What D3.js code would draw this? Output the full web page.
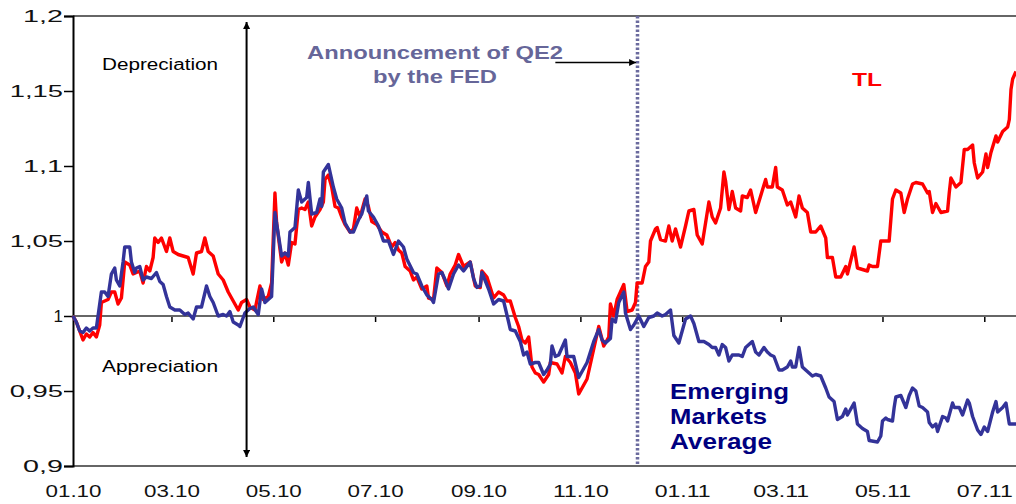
<!doctype html>
<html>
<head>
<meta charset="utf-8">
<title>TL vs Emerging Markets Average</title>
<script src="https://d3js.org/d3.v7.min.js"></script>
<style>
  body { margin: 0; background: #fff; }
  svg { display: block; font-family: "Liberation Sans", Arial, sans-serif; }
</style>
</head>
<body>
<svg class="chart"></svg>
<script>
// Turkish lira index (red) and emerging markets average (blue), 01.01.2010 = 1
var tlPoints = [
  ["2010-01-01",1.000],["2010-01-03",0.996],["2010-01-05",0.990],["2010-01-07",0.984],["2010-01-09",0.988],["2010-01-11",0.986],["2010-01-13",0.989],["2010-01-15",0.986],["2010-01-17",0.994],["2010-01-18",1.009],["2010-01-20",1.010],["2010-01-22",1.011],["2010-01-24",1.016],["2010-01-26",1.016],["2010-01-28",1.008],["2010-01-30",1.012],
  ["2010-02-01",1.036],["2010-02-04",1.034],["2010-02-06",1.028],["2010-02-08",1.029],["2010-02-10",1.030],["2010-02-12",1.022],["2010-02-14",1.033],["2010-02-16",1.030],["2010-02-18",1.039],["2010-02-19",1.052],["2010-02-21",1.049],["2010-02-23",1.052],["2010-02-26",1.043],["2010-02-28",1.052],
  ["2010-03-02",1.043],["2010-03-05",1.041],["2010-03-08",1.040],["2010-03-11",1.039],["2010-03-14",1.028],["2010-03-16",1.042],["2010-03-19",1.043],["2010-03-21",1.052],["2010-03-23",1.043],["2010-03-26",1.040],["2010-03-29",1.028],
  ["2010-04-01",1.024],["2010-04-04",1.016],["2010-04-07",1.010],["2010-04-10",1.004],["2010-04-12",1.009],["2010-04-15",1.011],["2010-04-17",1.006],["2010-04-20",1.004],["2010-04-23",1.020],["2010-04-25",1.011],["2010-04-28",1.013],["2010-04-30",1.022],
  ["2010-05-02",1.082],["2010-05-03",1.062],["2010-05-06",1.036],["2010-05-08",1.042],["2010-05-10",1.034],["2010-05-12",1.049],["2010-05-14",1.048],["2010-05-16",1.071],["2010-05-18",1.072],["2010-05-20",1.071],["2010-05-22",1.076],["2010-05-24",1.060],["2010-05-26",1.066],["2010-05-29",1.071],["2010-05-31",1.076],
  ["2010-06-01",1.091],["2010-06-03",1.094],["2010-06-05",1.086],["2010-06-07",1.073],["2010-06-09",1.072],["2010-06-11",1.066],["2010-06-13",1.061],["2010-06-16",1.056],["2010-06-18",1.058],["2010-06-20",1.072],["2010-06-22",1.066],["2010-06-25",1.078],["2010-06-27",1.073],["2010-06-29",1.063],
  ["2010-07-02",1.061],["2010-07-05",1.056],["2010-07-08",1.054],["2010-07-11",1.046],["2010-07-13",1.049],["2010-07-15",1.044],["2010-07-17",1.042],["2010-07-19",1.033],["2010-07-22",1.030],["2010-07-24",1.024],["2010-07-26",1.026],["2010-07-29",1.018],
  ["2010-08-01",1.020],["2010-08-02",1.012],["2010-08-05",1.011],["2010-08-07",1.032],["2010-08-10",1.029],["2010-08-13",1.020],["2010-08-15",1.028],["2010-08-18",1.034],["2010-08-20",1.041],["2010-08-23",1.033],["2010-08-27",1.036],["2010-08-30",1.020],
  ["2010-09-02",1.019],["2010-09-03",1.030],["2010-09-06",1.026],["2010-09-10",1.012],["2010-09-13",1.016],["2010-09-16",1.014],["2010-09-18",1.010],["2010-09-20",1.010],["2010-09-23",0.999],["2010-09-25",0.993],["2010-09-27",0.984],["2010-09-29",0.982],
  ["2010-10-01",0.986],["2010-10-03",0.966],["2010-10-05",0.962],["2010-10-07",0.961],["2010-10-10",0.956],["2010-10-13",0.961],["2010-10-14",0.969],["2010-10-18",0.968],["2010-10-21",0.962],["2010-10-23",0.973],["2010-10-26",0.969],["2010-10-29",0.962],["2010-10-31",0.948],
  ["2010-11-05",0.958],["2010-11-09",0.978],["2010-11-12",0.993],["2010-11-15",0.980],["2010-11-18",0.986],["2010-11-19",1.008],["2010-11-21",1.000],["2010-11-23",1.011],["2010-11-27",1.021],["2010-11-29",1.003],
  ["2010-12-02",1.004],["2010-12-04",1.009],["2010-12-05",1.022],["2010-12-08",1.022],["2010-12-10",1.033],["2010-12-12",1.036],["2010-12-13",1.050],["2010-12-16",1.058],["2010-12-17",1.059],["2010-12-19",1.051],["2010-12-22",1.050],["2010-12-24",1.060],["2010-12-26",1.050],["2010-12-28",1.058],["2010-12-31",1.046],
  ["2011-01-03",1.060],["2011-01-05",1.070],["2011-01-08",1.071],["2011-01-10",1.054],["2011-01-13",1.048],["2011-01-17",1.076],["2011-01-19",1.066],["2011-01-21",1.062],["2011-01-24",1.072],["2011-01-26",1.096],["2011-01-27",1.090],["2011-01-29",1.071],["2011-01-31",1.083],
  ["2011-02-02",1.072],["2011-02-05",1.070],["2011-02-06",1.080],["2011-02-09",1.079],["2011-02-11",1.084],["2011-02-14",1.069],["2011-02-17",1.080],["2011-02-20",1.091],["2011-02-21",1.086],["2011-02-24",1.086],["2011-02-26",1.099],["2011-02-27",1.086],
  ["2011-03-02",1.084],["2011-03-05",1.074],["2011-03-07",1.076],["2011-03-10",1.066],["2011-03-12",1.080],["2011-03-14",1.072],["2011-03-17",1.069],["2011-03-19",1.056],["2011-03-22",1.056],["2011-03-25",1.060],["2011-03-28",1.052],["2011-03-29",1.039],
  ["2011-04-01",1.039],["2011-04-03",1.026],["2011-04-06",1.026],["2011-04-09",1.033],["2011-04-10",1.028],["2011-04-14",1.046],["2011-04-16",1.032],["2011-04-19",1.031],["2011-04-22",1.030],["2011-04-23",1.034],["2011-04-25",1.033],["2011-04-28",1.033],["2011-04-30",1.050],
  ["2011-05-02",1.050],["2011-05-05",1.050],["2011-05-07",1.078],["2011-05-09",1.084],["2011-05-12",1.082],["2011-05-14",1.069],["2011-05-16",1.078],["2011-05-19",1.088],["2011-05-21",1.089],["2011-05-25",1.088],["2011-05-28",1.082],["2011-05-29",1.083],["2011-05-31",1.069],
  ["2011-06-02",1.075],["2011-06-05",1.069],["2011-06-09",1.070],["2011-06-10",1.082],["2011-06-11",1.092],["2011-06-14",1.086],["2011-06-17",1.089],["2011-06-19",1.111],["2011-06-21",1.111],["2011-06-24",1.114],["2011-06-25",1.102],["2011-06-27",1.092],["2011-06-30",1.096],
  ["2011-07-02",1.108],["2011-07-03",1.099],["2011-07-05",1.109],["2011-07-08",1.120],["2011-07-09",1.116],["2011-07-12",1.123],["2011-07-15",1.126],["2011-07-16",1.131],["2011-07-17",1.151],["2011-07-18",1.158],["2011-07-20",1.163]
];

var emPoints = [
  ["2010-01-01",1.000],["2010-01-03",0.996],["2010-01-05",0.990],["2010-01-07",0.989],["2010-01-09",0.992],["2010-01-11",0.990],["2010-01-13",0.992],["2010-01-15",0.992],["2010-01-17",1.008],["2010-01-18",1.016],["2010-01-20",1.016],["2010-01-22",1.013],["2010-01-24",1.028],["2010-01-26",1.032],["2010-01-27",1.024],["2010-01-29",1.020],["2010-01-31",1.036],
  ["2010-02-01",1.046],["2010-02-04",1.046],["2010-02-05",1.036],["2010-02-07",1.029],["2010-02-08",1.032],["2010-02-10",1.033],["2010-02-12",1.024],["2010-02-14",1.026],["2010-02-17",1.025],["2010-02-20",1.029],["2010-02-22",1.023],["2010-02-24",1.021],["2010-02-26",1.013],["2010-02-28",1.006],
  ["2010-03-03",1.004],["2010-03-06",1.004],["2010-03-09",1.001],["2010-03-11",1.002],["2010-03-14",0.998],["2010-03-16",1.006],["2010-03-19",1.006],["2010-03-22",1.020],["2010-03-24",1.013],["2010-03-26",1.009],["2010-03-29",1.000],
  ["2010-04-01",1.001],["2010-04-03",1.000],["2010-04-05",1.003],["2010-04-07",0.996],["2010-04-10",0.994],["2010-04-11",0.993],["2010-04-14",1.002],["2010-04-17",1.005],["2010-04-19",1.006],["2010-04-22",1.001],["2010-04-24",1.018],["2010-04-26",1.009],["2010-04-30",1.013],
  ["2010-05-02",1.069],["2010-05-06",1.040],["2010-05-08",1.042],["2010-05-10",1.040],["2010-05-11",1.056],["2010-05-14",1.059],["2010-05-16",1.084],["2010-05-18",1.076],["2010-05-21",1.079],["2010-05-22",1.089],["2010-05-24",1.068],["2010-05-27",1.069],["2010-05-29",1.078],["2010-05-30",1.073],["2010-05-31",1.096],
  ["2010-06-03",1.101],["2010-06-06",1.086],["2010-06-08",1.078],["2010-06-11",1.072],["2010-06-13",1.062],["2010-06-16",1.056],["2010-06-18",1.056],["2010-06-21",1.064],["2010-06-23",1.068],["2010-06-26",1.080],["2010-06-27",1.070],["2010-06-30",1.066],
  ["2010-07-03",1.060],["2010-07-06",1.050],["2010-07-09",1.050],["2010-07-12",1.041],["2010-07-15",1.050],["2010-07-18",1.046],["2010-07-20",1.038],["2010-07-24",1.029],["2010-07-26",1.028],["2010-07-29",1.020],
  ["2010-08-01",1.014],["2010-08-04",1.011],["2010-08-05",1.009],["2010-08-08",1.028],["2010-08-10",1.029],["2010-08-12",1.024],["2010-08-14",1.018],["2010-08-17",1.028],["2010-08-20",1.034],["2010-08-23",1.030],["2010-08-27",1.036],["2010-08-29",1.025],["2010-08-31",1.019],
  ["2010-09-02",1.020],["2010-09-03",1.029],["2010-09-07",1.018],["2010-09-10",1.008],["2010-09-13",1.011],["2010-09-16",1.010],["2010-09-19",0.996],["2010-09-20",0.991],["2010-09-23",0.990],["2010-09-26",0.983],["2010-09-28",0.974],["2010-09-30",0.976],
  ["2010-10-02",0.968],["2010-10-05",0.969],["2010-10-07",0.969],["2010-10-10",0.961],["2010-10-12",0.964],["2010-10-14",0.968],["2010-10-15",0.980],["2010-10-17",0.973],["2010-10-19",0.974],["2010-10-23",0.984],["2010-10-24",0.973],["2010-10-28",0.973],["2010-10-31",0.959],
  ["2010-11-05",0.969],["2010-11-09",0.983],["2010-11-12",0.991],["2010-11-14",0.984],["2010-11-16",0.982],["2010-11-19",0.985],["2010-11-20",0.998],["2010-11-22",0.996],["2010-11-24",1.009],["2010-11-27",1.016],["2010-11-28",1.002],
  ["2010-12-01",0.991],["2010-12-03",0.994],["2010-12-06",1.000],["2010-12-09",0.993],["2010-12-12",0.999],["2010-12-15",1.000],["2010-12-17",1.002],["2010-12-20",1.000],["2010-12-22",1.001],["2010-12-25",1.004],["2010-12-27",0.987],["2010-12-30",0.982],
  ["2011-01-03",0.998],["2011-01-06",1.000],["2011-01-08",0.995],["2011-01-11",0.983],["2011-01-14",0.983],["2011-01-17",0.981],["2011-01-19",0.979],["2011-01-21",0.979],["2011-01-23",0.974],["2011-01-25",0.981],["2011-01-27",0.979],["2011-01-29",0.970],["2011-01-31",0.974],
  ["2011-02-04",0.974],["2011-02-06",0.973],["2011-02-08",0.979],["2011-02-09",0.980],["2011-02-12",0.983],["2011-02-14",0.976],["2011-02-16",0.974],["2011-02-19",0.979],["2011-02-21",0.976],["2011-02-23",0.974],["2011-02-25",0.973],["2011-02-28",0.964],
  ["2011-03-02",0.964],["2011-03-05",0.966],["2011-03-07",0.970],["2011-03-08",0.966],["2011-03-10",0.966],["2011-03-12",0.979],["2011-03-14",0.966],["2011-03-17",0.963],["2011-03-20",0.960],["2011-03-22",0.961],["2011-03-25",0.960],["2011-03-28",0.952],["2011-03-30",0.946],
  ["2011-04-02",0.943],["2011-04-04",0.931],["2011-04-07",0.933],["2011-04-09",0.938],["2011-04-10",0.934],["2011-04-14",0.942],["2011-04-16",0.928],["2011-04-19",0.925],["2011-04-22",0.923],["2011-04-23",0.917],["2011-04-28",0.916],["2011-04-30",0.920],
  ["2011-05-01",0.930],["2011-05-03",0.932],["2011-05-04",0.931],["2011-05-07",0.930],["2011-05-08",0.939],["2011-05-09",0.946],["2011-05-12",0.947],["2011-05-15",0.939],["2011-05-17",0.947],["2011-05-19",0.952],["2011-05-21",0.950],["2011-05-23",0.940],["2011-05-25",0.939],["2011-05-28",0.936],["2011-05-29",0.929],["2011-05-31",0.926],
  ["2011-06-02",0.928],["2011-06-03",0.923],["2011-06-06",0.933],["2011-06-08",0.932],["2011-06-09",0.930],["2011-06-12",0.942],["2011-06-13",0.939],["2011-06-16",0.939],["2011-06-18",0.934],["2011-06-21",0.944],["2011-06-22",0.942],["2011-06-24",0.933],["2011-06-27",0.924],["2011-06-29",0.921],
  ["2011-07-01",0.926],["2011-07-03",0.923],["2011-07-06",0.936],["2011-07-08",0.943],["2011-07-09",0.936],["2011-07-12",0.939],["2011-07-14",0.942],["2011-07-16",0.928],["2011-07-20",0.928]
];

var yTicks = [0.9, 0.95, 1, 1.05, 1.1, 1.15, 1.2];
var yTickLabels = ["0,9", "0,95", "1", "1,05", "1,1", "1,15", "1,2"];
var xTickDates = ["2010-01-01", "2010-03-01", "2010-05-01", "2010-07-01", "2010-09-01", "2010-11-01",
                  "2011-01-01", "2011-03-01", "2011-05-01", "2011-07-01"];
var xTickLabels = ["01.10", "03.10", "05.10", "07.10", "09.10", "11.10", "01.11", "03.11", "05.11", "07.11"];

// annotation anchors
var qeDate = "2010-12-05";       // dotted marker line
var splitDate = "2010-04-15";    // depreciation / appreciation arrow
var qeArrowFrom = "2010-10-17";

var width = 1016, height = 504;
var plotLeft = 73, plotRight = 1016, plotTop = 16, plotBottom = 466;
var parse = d3.timeParse("%Y-%m-%d");

var x = d3.scaleTime().domain([parse("2010-01-01"), parse("2011-07-20")]).range([plotLeft, plotRight]);
var y = d3.scaleLinear().domain([0.9, 1.2]).range([plotBottom, plotTop]);

var svg = d3.select(".chart").attr("width", width).attr("height", height);

var defs = svg.append("defs");
defs.append("marker")
    .attr("id", "head")
    .attr("viewBox", "0 0 10 10")
    .attr("refX", 10).attr("refY", 5)
    .attr("markerWidth", 9).attr("markerHeight", 7)
    .attr("markerUnits", "userSpaceOnUse")
    .attr("orient", "auto-start-reverse")
  .append("path")
    .attr("d", "M0,0 L10,5 L0,10 z")
    .attr("fill", "#000");

// frame lines
svg.append("line")
    .attr("x1", plotLeft).attr("x2", plotRight).attr("y1", plotTop).attr("y2", plotTop)
    .attr("stroke", "#666").attr("stroke-width", 2);
svg.append("line")
    .attr("x1", plotLeft).attr("x2", plotRight).attr("y1", plotBottom).attr("y2", plotBottom)
    .attr("stroke", "#666").attr("stroke-width", 2);

// y axis
var yAxis = svg.append("g")
    .attr("transform", `translate(${plotLeft},0)`)
    .call(d3.axisLeft(y).tickValues(yTicks).tickSize(9).tickPadding(1)
        .tickFormat((d, i) => yTickLabels[i]));
yAxis.select(".domain").attr("stroke", "#000").attr("stroke-width", 2);
yAxis.selectAll(".tick line").attr("stroke", "#000").attr("stroke-width", 1.5);
yAxis.selectAll(".tick text")
    .attr("font-size", 17)
    .attr("font-family", "Liberation Sans, Arial, sans-serif")
    .attr("fill", "#111")
    .each(function(d, i) {
        var s = yTickLabels[i];
        if (s.length > 1) {
            d3.select(this).attr("textLength", s.length * 13.3).attr("lengthAdjust", "spacingAndGlyphs");
        }
    });

// base line at 1 with month ticks
var xDates = xTickDates.map(parse);
var baseAxis = svg.append("g")
    .attr("transform", `translate(0,${y(1)})`)
    .call(d3.axisBottom(x).tickValues(xDates.slice(1)).tickSize(6).tickFormat(""));
baseAxis.select(".domain").remove();
baseAxis.selectAll(".tick line").attr("stroke", "#000").attr("stroke-width", 1.5);
svg.append("line")
    .attr("x1", plotLeft).attr("x2", plotRight).attr("y1", y(1)).attr("y2", y(1))
    .attr("stroke", "#666").attr("stroke-width", 2);

// month labels under the plot
var labelAxis = svg.append("g")
    .attr("transform", `translate(0,${plotBottom})`)
    .call(d3.axisBottom(x).tickValues(xDates).tickSize(0).tickPadding(19)
        .tickFormat((d, i) => xTickLabels[i]));
labelAxis.select(".domain").remove();
labelAxis.selectAll(".tick text")
    .attr("font-size", 17)
    .attr("font-family", "Liberation Sans, Arial, sans-serif")
    .attr("fill", "#111")
    .attr("textLength", 56)
    .attr("lengthAdjust", "spacingAndGlyphs");

// QE2 marker
svg.append("line")
    .attr("x1", Math.round(x(parse(qeDate))) + 0.5).attr("x2", Math.round(x(parse(qeDate))) + 0.5)
    .attr("y1", plotTop).attr("y2", plotBottom)
    .attr("stroke", "#6b6b9e").attr("stroke-width", 3.5)
    .attr("stroke-dasharray", "2.5,2");

// series
var line = d3.line()
    .x(d => x(parse(d[0])))
    .y(d => y(d[1]));

svg.append("path")
    .datum(tlPoints)
    .attr("d", line)
    .attr("fill", "none")
    .attr("stroke", "#ff0000")
    .attr("stroke-width", 3.4)
    .attr("stroke-linejoin", "round");

svg.append("path")
    .datum(emPoints)
    .attr("d", line)
    .attr("fill", "none")
    .attr("stroke", "#333399")
    .attr("stroke-width", 3.4)
    .attr("stroke-linejoin", "round");

// arrows
svg.append("line")
    .attr("x1", x(parse(splitDate))).attr("x2", x(parse(splitDate)))
    .attr("y1", y(1.196)).attr("y2", y(0.906))
    .attr("stroke", "#000").attr("stroke-width", 2)
    .attr("marker-start", "url(#head)")
    .attr("marker-end", "url(#head)");

svg.append("line")
    .attr("x1", x(parse(qeArrowFrom))).attr("x2", x(parse(qeDate)) - 1)
    .attr("y1", y(1.169)).attr("y2", y(1.169))
    .attr("stroke", "#000").attr("stroke-width", 1.6)
    .attr("marker-end", "url(#head)");

// annotations
function note(t, px, py, len, size, weight, fill) {
    svg.append("text")
        .attr("x", px).attr("y", py)
        .attr("font-size", size)
        .attr("font-weight", weight)
        .attr("fill", fill)
        .attr("textLength", len)
        .attr("lengthAdjust", "spacingAndGlyphs")
        .text(t);
}

note("Depreciation", 102, 70, 116, 16, "normal", "#000");
note("Appreciation", 102, 372, 116, 16, "normal", "#000");
note("Announcement of QE2", 307, 59, 256, 19, "bold", "#666699");
note("by the FED", 373, 83, 124, 19, "bold", "#666699");
note("TL", 852, 86, 30, 19, "bold", "#ff0000");
note("Emerging", 670, 399, 119, 22, "bold", "#000080");
note("Markets", 670, 424, 97, 22, "bold", "#000080");
note("Average", 670, 449, 102, 22, "bold", "#000080");
</script>
</body>
</html>
